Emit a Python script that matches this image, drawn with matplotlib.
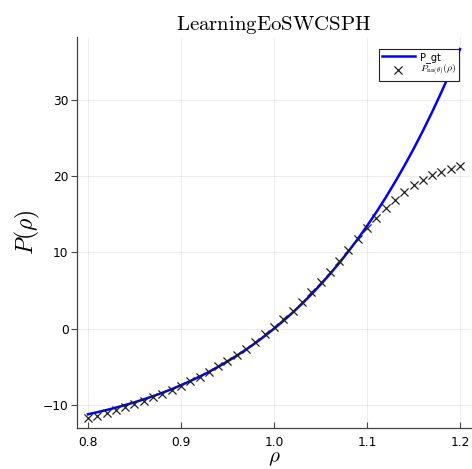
import matplotlib
matplotlib.use("Agg")
import matplotlib.pyplot as plt

# density samples
rho = [0.80, 0.81, 0.82, 0.83, 0.84, 0.85, 0.86, 0.87, 0.88, 0.89,
       0.90, 0.91, 0.92, 0.93, 0.94, 0.95, 0.96, 0.97, 0.98, 0.99,
       1.00, 1.01, 1.02, 1.03, 1.04, 1.05, 1.06, 1.07, 1.08, 1.09,
       1.10, 1.11, 1.12, 1.13, 1.14, 1.15, 1.16, 1.17, 1.18, 1.19, 1.20]

# ground truth pressure (blue line)
p_gt = [-11.22, -10.95, -10.66, -10.35, -10.01, -9.65, -9.26, -8.84, -8.40, -7.92,
        -7.41, -6.86, -6.28, -5.66, -4.99, -4.28, -3.53, -2.73, -1.87, -0.96,
        0.00, 1.02, 2.11, 3.26, 4.49, 5.78, 7.15, 8.60, 10.14, 11.76,
        13.47, 15.28, 17.19, 19.21, 21.33, 23.57, 25.93, 28.42, 31.03, 33.79, 36.68]

# network prediction (crosses)
p_nn = [-11.7, -11.4, -11.05, -10.7, -10.3, -9.9, -9.45, -9.0, -8.5, -8.0,
        -7.45, -6.9, -6.3, -5.65, -4.95, -4.2, -3.4, -2.6, -1.7, -0.75,
        0.25, 1.3, 2.35, 3.5, 4.8, 6.1, 7.45, 8.9, 10.3, 11.75,
        13.2, 14.5, 15.8, 16.9, 17.9, 18.8, 19.5, 20.1, 20.5, 20.9, 21.3]

plt.rcParams['mathtext.fontset'] = 'cm'

fig = plt.figure(figsize=(4.72, 4.69), dpi=100)
ax = fig.add_axes([77/472, 41/469, 394/472, 391/469])

ax.plot(rho, p_gt, color='#0000ff', lw=1.8, label='P_gt', zorder=3)
ax.scatter(rho, p_nn, marker='x', s=34, color='#222222', linewidths=0.9,
           label=r'$P_{\mathrm{nn}(\theta)}(\rho)$', zorder=4)

ax.set_xlim(0.7882, 1.2118)
ax.set_ylim(-13.02, 38.26)
ax.set_xticks([0.8, 0.9, 1.0, 1.1, 1.2])
ax.set_yticks([-10, 0, 10, 20, 30])
ax.grid(True, color='#000000', alpha=0.08, lw=0.6)

for s in ['top', 'right']:
    ax.spines[s].set_visible(False)
for s in ['left', 'bottom']:
    ax.spines[s].set_color('#444444')
    ax.spines[s].set_linewidth(0.9)
ax.tick_params(axis='x', direction='in', length=4, color='#444444', labelsize=8.8, pad=6)
ax.tick_params(axis='y', direction='out', length=4, color='#444444', labelsize=8.8, pad=2)

ax.set_title(r'$\mathrm{LearningEoSWCSPH}$', fontsize=15, pad=5)
ax.set_xlabel(r'$\rho$', fontsize=15, labelpad=-1)
ax.set_ylabel(r'$P(\rho)$', fontsize=17, labelpad=1)

leg = ax.legend(loc='upper right', bbox_to_anchor=(0.97, 0.97), borderaxespad=0,
                fancybox=False, edgecolor='#222222', framealpha=1, fontsize=7,
                handlelength=3.4, borderpad=0.3, labelspacing=0.05, handletextpad=0.5)
leg.get_frame().set_linewidth(0.8)

fig.savefig('out.png', dpi=100)
